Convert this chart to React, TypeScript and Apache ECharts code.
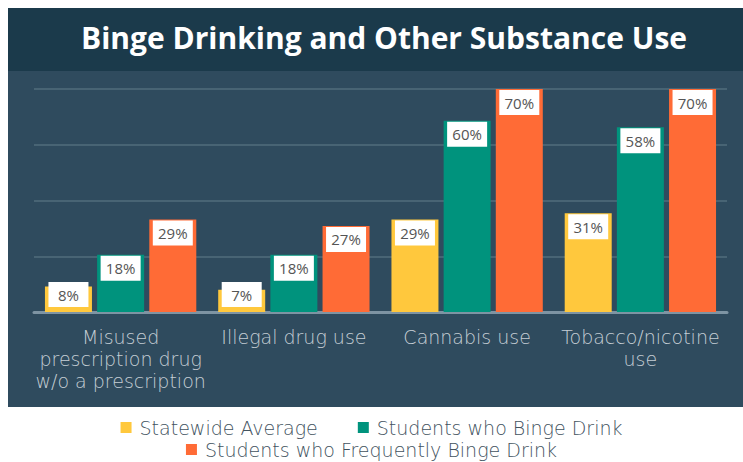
import React, { useEffect, useRef } from "react";
import * as echarts from "echarts";

const categories = [
  "Misused\nprescription drug\nw/o a prescription",
  "Illegal drug use",
  "Cannabis use",
  "Tobacco/nicotine\nuse",
];
const seriesNames = [
  "Statewide Average",
  "Students who Binge Drink",
  "Students who Frequently Binge Drink",
];
const statewide = [8, 7, 29, 31];
const binge = [18, 18, 60, 58];
const frequent = [29, 27, 70, 70];
const colors = ["#FFC83D", "#00937D", "#FF6B36"];

const FONT = "'Open Sans', 'Noto Sans', sans-serif";
const WIDE = "'DejaVu Sans', 'Open Sans', sans-serif";

export default function App() {
  const ref = useRef<HTMLDivElement>(null);
  useEffect(() => {
    document.body.style.margin = "0";
    const chart = echarts.init(ref.current!, null, { renderer: "svg" });
    const mkData = (vals: number[]) =>
      vals.map((v) =>
        v < 10
          ? { value: v, label: { position: "insideBottom", distance: 5 } }
          : { value: v }
      );
    const all = [statewide, binge, frequent];
    const legendText = {
      color: "#42525E",
      fontSize: 19,
      fontWeight: 200,
      fontFamily: WIDE,
      padding: [0, 0, 0, 3],
    };
    chart.setOption({
      animation: false,
      backgroundColor: "#ffffff",
      graphic: [
        {
          type: "rect",
          z: -10,
          silent: true,
          shape: { x: 8, y: 8, width: 735, height: 63 },
          style: { fill: "#1B3A4B" },
        },
        {
          type: "rect",
          z: -10,
          silent: true,
          shape: { x: 8, y: 71, width: 735, height: 336 },
          style: { fill: "#2F4B5E" },
        },
        {
          type: "text",
          x: 384,
          y: 37,
          z: 10,
          style: {
            text: "Binge Drinking and Other Substance Use",
            fill: "#ffffff",
            font: `bold 30px ${FONT}`,
            align: "center",
            verticalAlign: "middle",
          },
        },
      ],
      legend: [
        {
          data: [seriesNames[0], seriesNames[1]],
          top: 413,
          left: "center",
          itemWidth: 11,
          itemHeight: 11,
          itemGap: 40,
          icon: "rect",
          textStyle: legendText,
        },
        {
          data: [seriesNames[2]],
          top: 435,
          left: "center",
          itemWidth: 11,
          itemHeight: 11,
          icon: "rect",
          textStyle: legendText,
        },
      ],
      grid: { left: 34, right: 16, top: 89, bottom: 150, containLabel: false },
      xAxis: {
        type: "category",
        data: categories,
        axisTick: { show: false },
        axisLine: { lineStyle: { color: "#7E94A3", width: 3 } },
        axisLabel: {
          color: "#C5CED5",
          fontSize: 19,
          fontWeight: 200,
          fontFamily: WIDE,
          lineHeight: 22,
          margin: 14,
          interval: 0,
        },
      },
      yAxis: {
        type: "value",
        min: 0,
        max: 70,
        interval: 17.5,
        axisLabel: { show: false },
        axisLine: { show: false },
        axisTick: { show: false },
        splitLine: { lineStyle: { color: "#486474", width: 2 } },
      },
      series: all.map((vals, i) => ({
        name: seriesNames[i],
        type: "bar",
        data: mkData(vals),
        barWidth: 47,
        barGap: "11%",
        itemStyle: { color: colors[i] },
        label: {
          show: true,
          position: "insideTop",
          distance: 1,
          formatter: "{c}%",
          backgroundColor: "#ffffff",
          color: "#555555",
          fontSize: 15,
          fontFamily: FONT,
          width: 40,
          height: 25,
          lineHeight: 25,
          align: "center",
          padding: 0,
        },
      })),
    });
    return () => chart.dispose();
  }, []);
  return (
    <div
      ref={ref}
      style={{ position: "fixed", left: 0, top: 0, width: 743, height: 462 }}
    />
  );
}
